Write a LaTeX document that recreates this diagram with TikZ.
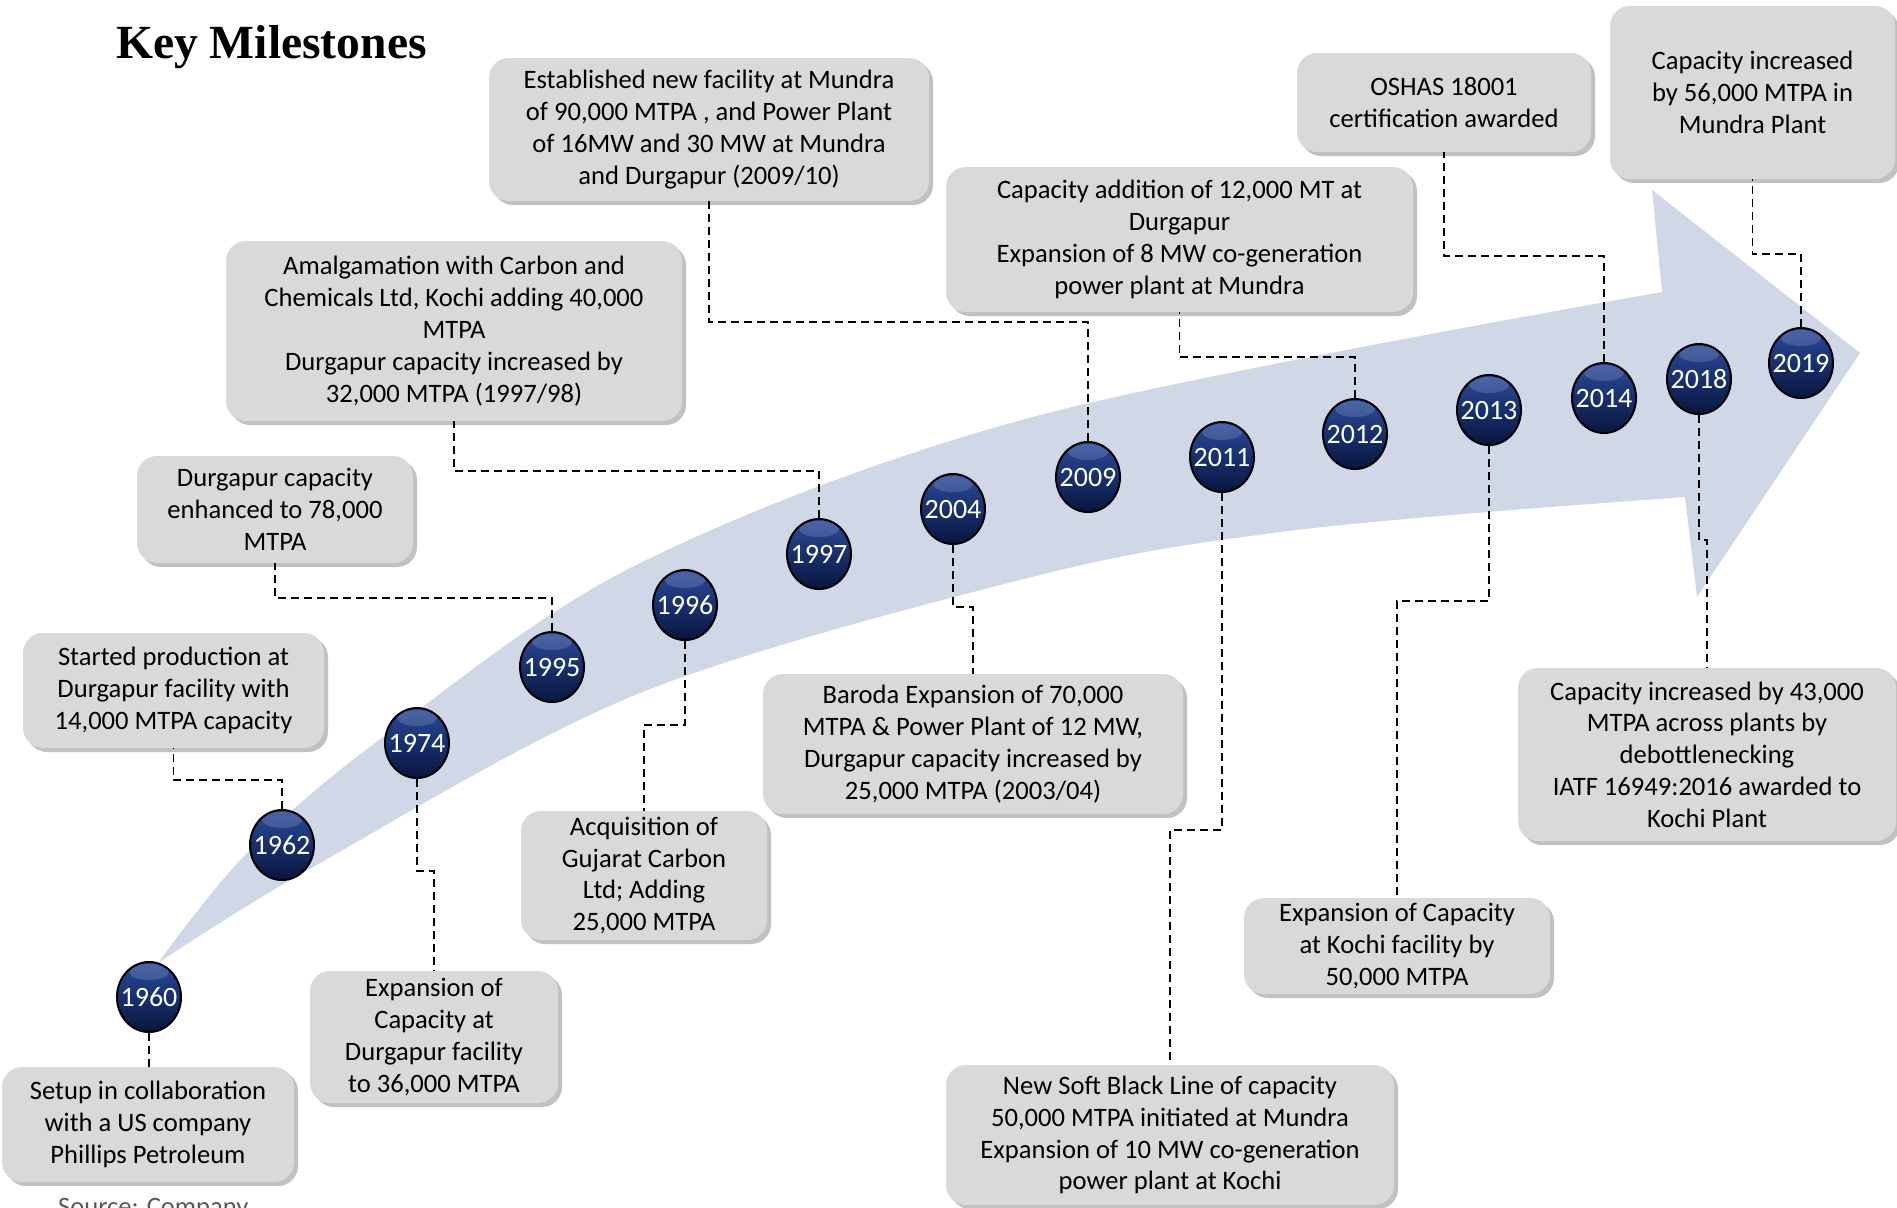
\documentclass[tikz,border=0pt]{standalone}
\usepackage{fontspec}
\setmainfont{Carlito}
\newfontfamily\headfont{Liberation Serif}
\usetikzlibrary{shapes.geometric,shadows}
\definecolor{boxgray}{HTML}{D9D9D9}
\definecolor{bandblue}{HTML}{D0D8E7}
\definecolor{navy}{HTML}{0E2466}
\definecolor{navytop}{HTML}{2A4A9A}
\definecolor{navybot}{HTML}{08163F}
\def\SetupUS{Setup in collaboration\\with a US company\\Phillips Petroleum}
\def\StartDgp{Started production at\\Durgapur facility with\\14,000 MTPA capacity}
\def\ExpDgp{Expansion of\\Capacity at\\Durgapur facility\\to 36,000 MTPA}
\def\DgpEnh{Durgapur capacity\\enhanced to 78,000\\MTPA}
\def\GujCarbon{Acquisition of\\Gujarat Carbon\\Ltd; Adding\\25,000 MTPA}
\def\Amalg{Amalgamation with Carbon and\\Chemicals Ltd, Kochi adding 40,000\\MTPA\\Durgapur capacity increased by\\32,000 MTPA (1997/98)}
\def\Baroda{Baroda Expansion of 70,000\\MTPA \& Power Plant of 12 MW,\\Durgapur capacity increased by\\25,000 MTPA (2003/04)}
\def\NewMundra{Established new facility at Mundra\\of 90,000 MTPA , and Power Plant\\of 16MW and 30 MW at Mundra\\and Durgapur (2009/10)}
\def\SoftBlack{New Soft Black Line of capacity\\50,000 MTPA initiated at Mundra\\Expansion of 10 MW co-generation\\power plant at Kochi}
\def\AddDgp{Capacity addition of 12,000 MT at\\Durgapur\\Expansion of 8 MW co-generation\\power plant at Mundra}
\def\KochiExp{Expansion of Capacity\\at Kochi facility by\\50,000 MTPA}
\def\Oshas{OSHAS 18001\\certification awarded}
\def\Debottle{Capacity increased by 43,000\\MTPA across plants by\\debottlenecking\\IATF 16949:2016 awarded to\\Kochi Plant}
\def\MundraCap{Capacity increased\\by 56,000 MTPA in\\Mundra Plant}
\newcommand{\rise}[3]{\draw[leader] (#1.north) -- (#1.north |- 0,#3) -| (#2.south)}
\newcommand{\drop}[3]{\draw[leader] (#1.south) -- (#1.south |- 0,#3) -| (#2.north)}

\begin{document}
\begin{tikzpicture}[x=0.5pt, y=-0.5pt,
                    box/.style={
                        rectangle, rounded corners=10pt, fill=boxgray,
                        align=center, inner sep=0pt,
                        font=\fontsize{13.3}{15.9}\selectfont,
                        execute at begin node={\rule{0pt}{13.4pt}},
                        drop shadow={shadow xshift=2pt, shadow yshift=-2pt,
                                     opacity=0.35, fill=black!70}
                    },
                    year/.style={
                        ellipse, minimum width=32pt, minimum height=35pt,
                        inner xsep=-4pt, inner ysep=0pt, draw=black, line width=1pt,
                        top color=navytop, middle color=navy, bottom color=navybot,
                        text=white, font=\fontsize{14}{16}\selectfont,
                        path picture={
                            \fill[white, opacity=0.15]
                                ([yshift=-5pt]path picture bounding box.north) ellipse (10pt and 4pt);
                        }
                    },
                    leader/.style={
                        line width=0.9pt, dash pattern=on 4pt off 2.5pt
                    }]
    \useasboundingbox (0,0) rectangle (1897,1207);

    \fill[bandblue] plot[smooth, tension=0.55] coordinates {(158,963) (247,853) (383,737) (640,563) (1040,415) (1662,292)}
        -- (1652,190) -- (1860,353) -- (1697,597) -- (1685,497)
        -- plot[smooth, tension=0.55] coordinates {(1550,507) (1280,532) (1040,575) (640,693) (313,867) (158,963)}
        -- cycle;

    \node[anchor=base west, font=\headfont\bfseries\fontsize{23.8}{28}\selectfont] (title) at (109,58) {Key Milestones};

    \node[year] (c1960) at (149,997) {1960};
    \node[year] (c1962) at (282,845) {1962};
    \node[year] (c1974) at (417,743) {1974};
    \node[year] (c1995) at (552,667) {1995};
    \node[year] (c1996) at (685,605) {1996};
    \node[year] (c1997) at (819,554) {1997};
    \node[year] (c2004) at (953,509) {2004};
    \node[year] (c2009) at (1088,477) {2009};
    \node[year] (c2011) at (1222,457) {2011};
    \node[year] (c2012) at (1355,434) {2012};
    \node[year] (c2013) at (1489,410) {2013};
    \node[year] (c2014) at (1604,398) {2014};
    \node[year] (c2018) at (1699,379) {2018};
    \node[year] (c2019) at (1801,363) {2019};

    \node[box, minimum width=146pt, minimum height=57.5pt] (b1960) at (148,1124.5) {\SetupUS};
    \node[box, minimum width=150.5pt, minimum height=57.5pt] (b1962) at (173.5,690.5) {\StartDgp};
    \node[box, minimum width=124pt, minimum height=66pt] (b1974) at (434,1037) {\ExpDgp};
    \node[box, minimum width=138pt, minimum height=53.5pt] (b1995) at (275,509.5) {\DgpEnh};
    \node[box, minimum width=123pt, minimum height=64.5pt] (b1996) at (644,875.5) {\GujCarbon};
    \node[box, minimum width=228pt, minimum height=90pt] (b1997) at (454,331) {\Amalg};
    \node[box, minimum width=210pt, minimum height=70pt] (b2004) at (973,744) {\Baroda};
    \node[box, minimum width=220pt, minimum height=71.5pt] (b2009) at (709,129.5) {\NewMundra};
    \node[box, minimum width=224pt, minimum height=70pt] (b2011) at (1170,1135) {\SoftBlack};
    \node[box, minimum width=233.5pt, minimum height=72.5pt] (b2012) at (1179.5,239.5) {\AddDgp};
    \node[box, minimum width=153pt, minimum height=48pt] (b2013) at (1397,946) {\KochiExp};
    \node[box, minimum width=147pt, minimum height=49.5pt] (b2014) at (1444,102.5) {\Oshas};
    \node[box, minimum width=189pt, minimum height=86.5pt] (b2018) at (1707,754.5) {\Debottle};
    \node[box, minimum width=142.5pt, minimum height=86.5pt] (b2019) at (1752.5,92.5) {\MundraCap};

    \draw[leader] (c1960.south) -- (c1960.south |- b1960.north);
    \rise{c1962}{b1962}{780};
    \drop{c1974}{b1974}{871};
    \rise{c1995}{b1995}{598};
    \drop{c1996}{b1996}{725};
    \rise{c1997}{b1997}{471};
    \drop{c2004}{b2004}{607};
    \rise{c2009}{b2009}{322};
    \drop{c2011}{b2011}{830};
    \rise{c2012}{b2012}{357};
    \drop{c2013}{b2013}{601};
    \rise{c2014}{b2014}{256};
    \drop{c2018}{b2018}{540};
    \rise{c2019}{b2019}{254};

    \node[anchor=base west, text=black!65, font=\fontsize{13.3}{16}\selectfont] (source) at (51,1215) {Source: Company};
    \node[anchor=base west, font=\fontsize{13.3}{16}\selectfont] (pageno) at (1889,1215) {7};
\end{tikzpicture}
\end{document}
